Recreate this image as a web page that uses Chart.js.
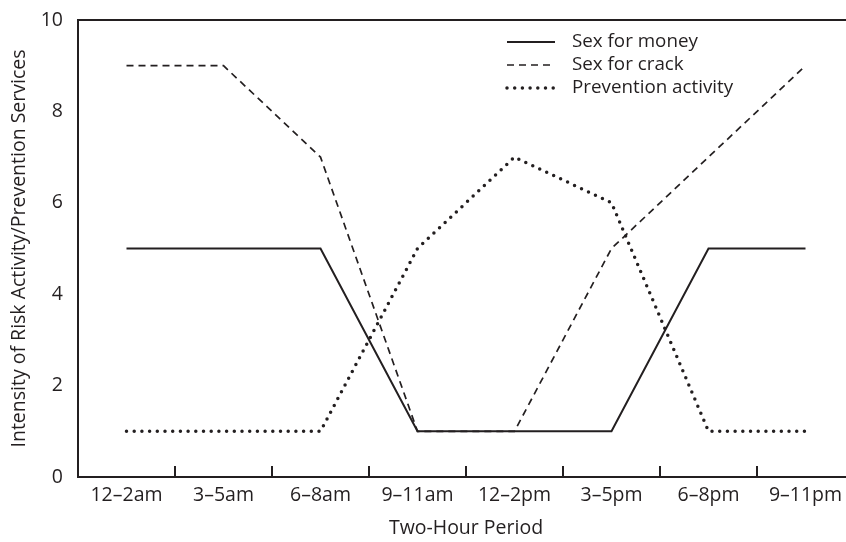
<!DOCTYPE html>
<html>
<head>
<meta charset="utf-8">
<script src="https://cdn.jsdelivr.net/npm/chart.js@4.4.0/dist/chart.umd.min.js"></script>
<style>
  html, body { margin: 0; padding: 0; background: #fff; overflow: hidden; }
  #wrap { width: 870px; height: 542px; position: relative; }
</style>
</head>
<body>
<div id="wrap"><canvas id="chart"></canvas></div>
<script>
// ===== Risk activity vs prevention, by two-hour period =====
const INK = '#231f20';
const FONT = "'Open Sans', 'DejaVu Sans', sans-serif";
const FS = 19.5;

const periods = ['12\u20132am', '3\u20135am', '6\u20138am', '9\u201311am', '12\u20132pm', '3\u20135pm', '6\u20138pm', '9\u201311pm'];
const sexForMoney = [5, 5, 5, 1, 1, 1, 5, 5];
const sexForCrack = [9, 9, 7, 1, 1, 5, 7, 9];
const prevention = [1, 1, 1, 5, 7, 6, 1, 1];
const yTicks = [0, 2, 4, 6, 8, 10];

// frame on top/right and inward tick marks between categories
const framePlugin = {
    id: 'frame',
    afterDraw(chart) {
        const { ctx, chartArea: a, scales: { x } } = chart;
        ctx.save();
        ctx.strokeStyle = INK;
        ctx.lineWidth = 2;
        ctx.beginPath();
        ctx.moveTo(a.left - 1, a.top);
        ctx.lineTo(a.right, a.top);
        ctx.lineTo(a.right, a.bottom);
        for (let i = 0; i < periods.length - 1; i++) {
            const px = Math.round((x.getPixelForValue(i) + x.getPixelForValue(i + 1)) / 2);
            ctx.moveTo(px, a.bottom);
            ctx.lineTo(px, a.bottom - 11);
        }
        ctx.stroke();
        ctx.restore();
    }
};

// legend drawn inside the plot, upper right
const legendPlugin = {
    id: 'insideLegend',
    afterDraw(chart) {
        const { ctx } = chart;
        ctx.save();
        ctx.font = `18.8px ${FONT}`;
        ctx.textBaseline = 'middle';
        ctx.fillStyle = INK;
        chart.data.datasets.forEach((ds, i) => {
            const y = 42 + i * 23;
            ctx.strokeStyle = INK;
            ctx.lineWidth = ds.borderWidth;
            ctx.lineCap = ds.borderCapStyle || 'butt';
            ctx.setLineDash(ds.borderDash || []);
            ctx.beginPath();
            ctx.moveTo(507, y);
            ctx.lineTo(555, y);
            ctx.stroke();
            ctx.setLineDash([]);
            ctx.fillText(ds.label, 572, y);
        });
        ctx.restore();
    }
};

new Chart(document.getElementById('chart'), {
    type: 'line',
    data: {
        labels: periods,
        datasets: [
            { label: 'Sex for money', data: sexForMoney, borderColor: INK, borderWidth: 2, borderDash: [] },
            { label: 'Sex for crack', data: sexForCrack, borderColor: INK, borderWidth: 1.7, borderDash: [7, 5] },
            { label: 'Prevention activity', data: prevention, borderColor: INK, borderWidth: 3.5, borderDash: [0, 7.7], borderCapStyle: 'round' }
        ]
    },
    options: {
        responsive: true,
        maintainAspectRatio: false,
        animation: false,
        layout: { padding: { top: 20, right: 16, left: 0, bottom: 0 } },
        elements: { point: { radius: 0 }, line: { tension: 0, fill: false } },
        plugins: { legend: { display: false }, tooltip: { enabled: false } },
        scales: {
            x: {
                offset: true,
                grid: { offset: true, drawOnChartArea: false, drawTicks: false, color: 'transparent' },
                border: { display: true, color: INK, width: 2 },
                ticks: { color: INK, font: { family: FONT, size: FS }, padding: 7, maxRotation: 0, autoSkip: false },
                title: { display: true, text: 'Two-Hour Period', color: INK, font: { family: FONT, size: FS }, padding: { top: 0, bottom: 2 } },
                afterFit: s => { s.height = 65; }
            },
            y: {
                min: 0,
                max: 10,
                afterBuildTicks: s => { s.ticks = yTicks.map(v => ({ value: v })); },
                grid: { drawOnChartArea: false, drawTicks: false, color: 'transparent' },
                border: { display: true, color: INK, width: 2 },
                ticks: { color: INK, font: { family: FONT, size: FS }, padding: 15 },
                title: { display: true, text: 'Intensity of Risk Activity/Prevention Services', color: INK, font: { family: FONT, size: FS }, padding: { top: 8, bottom: 0 } },
                afterFit: s => { s.width = 78; s.paddingTop = 0; s.paddingBottom = 0; }
            }
        }
    },
    plugins: [framePlugin, legendPlugin]
});
</script>
</body>
</html>
